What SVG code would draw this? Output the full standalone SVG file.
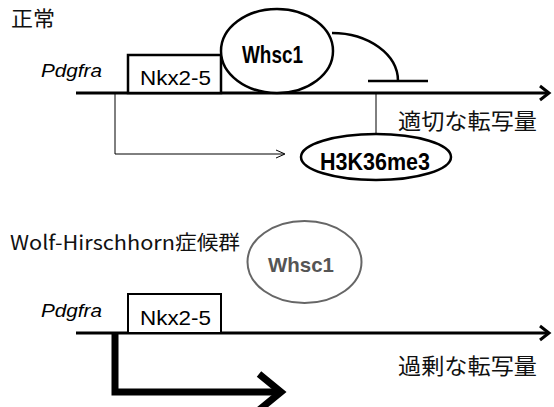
<svg xmlns="http://www.w3.org/2000/svg" width="554" height="407" viewBox="0 0 554 407">
<defs>
<style>
.t{font-family:"Liberation Sans","Noto Sans CJK JP",sans-serif;fill:#000}
.jp{font-family:"Noto Sans CJK JP","Liberation Sans",sans-serif;fill:#111}
.it{font-family:"Liberation Sans",sans-serif;font-style:italic;font-size:19px}
.b{font-family:"Liberation Sans",sans-serif;font-weight:bold}
.dna{stroke:#000;stroke-width:3;fill:none}
.box{fill:#fff;stroke:#000;stroke-width:2.5}
</style>
</defs>
<rect width="554" height="407" fill="#fff"/>
<text class="jp" x="11" y="26" font-size="21" textLength="44" lengthAdjust="spacingAndGlyphs">正常</text>
<text class="jp" x="10" y="250" font-size="20" textLength="230" lengthAdjust="spacingAndGlyphs">Wolf-Hirschhorn症候群</text>

<g id="connectors">
  <path class="dna" d="M76,93 H548"/>
  <path d="M540,86 L549,93 L540,100" fill="none" stroke="#000" stroke-width="3"/>
  <path d="M115,93 V154 H284" fill="none" stroke="#000" stroke-width="1"/>
  <path d="M276,150 L285,154 L276,158" fill="none" stroke="#000" stroke-width="1"/>
  <path d="M376,93 V134" stroke="#000" stroke-width="1" fill="none"/>
  <path d="M332,33 A66,48 0 0 1 398,81" fill="none" stroke="#000" stroke-width="2.5"/>
  <path d="M368,81 H428" stroke="#000" stroke-width="2.5"/>
  <path class="dna" d="M76,333 H548"/>
  <path d="M540,326 L549,333 L540,340" fill="none" stroke="#000" stroke-width="3"/>
  <path d="M115,333 V392 H279" fill="none" stroke="#000" stroke-width="7"/>
  <path d="M259,374 L281,392 L259,410" fill="none" stroke="#000" stroke-width="7"/>
</g>

<g id="pdgfra-top"><text class="it" x="41" y="77" textLength="61" lengthAdjust="spacingAndGlyphs">Pdgfra</text></g>
<g id="nkx-top">
  <rect class="box" x="128" y="55" width="93" height="38"/>
  <text class="t" x="140" y="85" font-size="21" textLength="71" lengthAdjust="spacingAndGlyphs">Nkx2-5</text>
</g>
<g id="whsc1-top">
  <ellipse cx="277" cy="51" rx="56" ry="42" fill="#fff" stroke="#000" stroke-width="2.5"/>
  <text class="b" x="242" y="63" font-size="24" textLength="61" lengthAdjust="spacingAndGlyphs">Whsc1</text>
</g>
<g id="h3k36me3">
  <ellipse cx="376" cy="157" rx="75" ry="23" fill="#fff" stroke="#000" stroke-width="2.5"/>
  <text class="b" x="320" y="170" font-size="23" textLength="110" lengthAdjust="spacingAndGlyphs">H3K36me3</text>
</g>
<g id="label-top"><text class="jp" x="398" y="129" font-size="22" textLength="139" lengthAdjust="spacingAndGlyphs">適切な転写量</text></g>

<g id="pdgfra-bottom"><text class="it" x="41" y="317" textLength="61" lengthAdjust="spacingAndGlyphs">Pdgfra</text></g>
<g id="nkx-bottom">
  <rect x="128" y="294" width="93" height="39" fill="#fff" stroke="#000" stroke-width="2"/>
  <text class="t" x="140" y="325" font-size="21" textLength="71" lengthAdjust="spacingAndGlyphs">Nkx2-5</text>
</g>
<g id="whsc1-bottom">
  <ellipse cx="304.5" cy="262" rx="57" ry="41" fill="#fff" stroke="#666" stroke-width="2"/>
  <text class="b" x="268" y="272" font-size="21" textLength="66" lengthAdjust="spacingAndGlyphs" fill="#555">Whsc1</text>
</g>
<g id="label-bottom"><text class="jp" x="398" y="374" font-size="22" textLength="139" lengthAdjust="spacingAndGlyphs">過剰な転写量</text></g>
</svg>
